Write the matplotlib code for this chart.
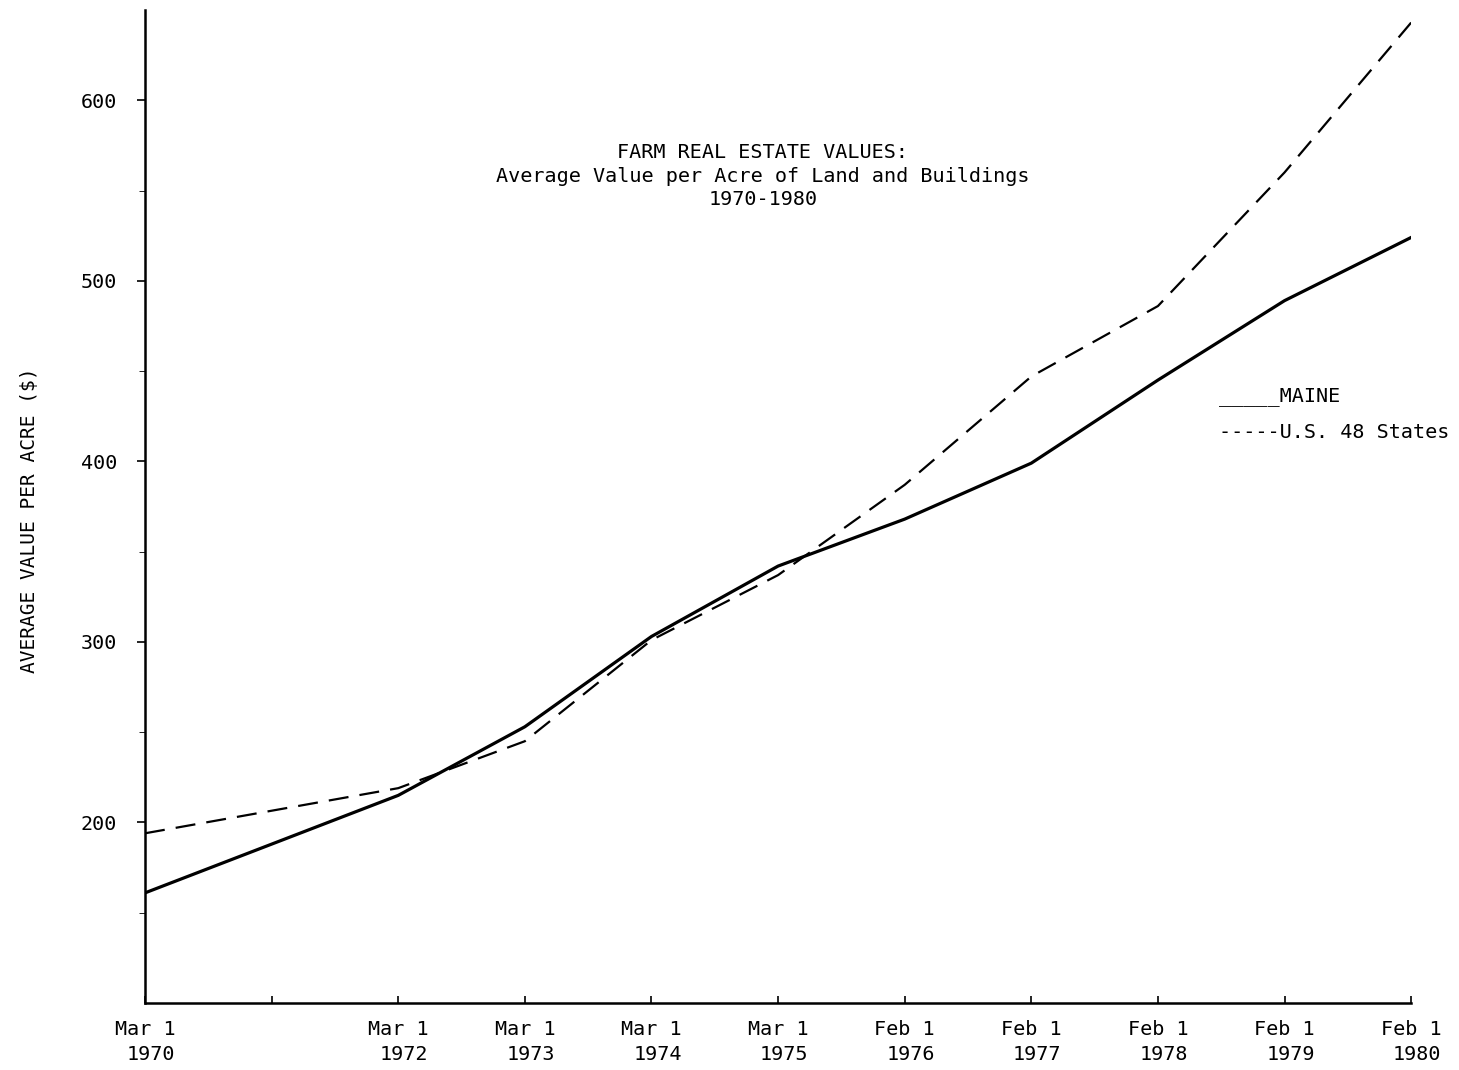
import matplotlib.pyplot as plt

plt.rcParams['font.family'] = ['DejaVu Sans Mono', 'DejaVu Sans']

years = [1970, 1972, 1973, 1974, 1975, 1976, 1977, 1978, 1979, 1980]
maine = [161, 215, 253, 303, 342, 368, 399, 445, 489, 524]
us48 = [194, 219, 245, 301, 337, 387, 447, 486, 560, 643]

tick_years = [1970, 1971, 1972, 1973, 1974, 1975, 1976, 1977, 1978, 1979, 1980]
tick_labels = ['Mar 1\n1970', '', 'Mar 1\n1972', 'Mar 1\n1973', 'Mar 1\n1974',
               'Mar 1\n1975', 'Feb 1\n1976', 'Feb 1\n1977', 'Feb 1\n1978',
               'Feb 1\n1979', 'Feb 1\n1980']

fig = plt.figure(figsize=(14.59, 10.70), dpi=100)
ax = fig.add_axes([0.0994, 0.0626, 0.8678, 0.9281])

ax.plot(years, maine, color='black', lw=2.3)
ax.plot(years, us48, color='black', lw=1.6, dashes=(9, 5))

ax.set_xlim(1970, 1980)
ax.set_ylim(100, 650)
ax.set_xticks(tick_years)
ax.set_xticklabels(tick_labels, fontsize=14.5, multialignment='right', linespacing=1.4)
ax.set_yticks([200, 300, 400, 500, 600])
ax.set_yticks([150, 250, 350, 450, 550], minor=True)
ax.tick_params(axis='y', labelsize=14.5, length=6, width=1.2, pad=14)
ax.tick_params(axis='y', which='minor', length=4)
ax.tick_params(axis='x', length=5, width=1.2, direction='in', pad=12)

for s in ['top', 'right']:
    ax.spines[s].set_visible(False)
ax.spines['left'].set_linewidth(1.8)
ax.spines['bottom'].set_linewidth(1.8)

ax.set_ylabel('AVERAGE VALUE PER ACRE ($)', fontsize=14)
ax.yaxis.set_label_coords(-0.084, 0.486)

ax.text(0.488, 0.866, 'FARM REAL ESTATE VALUES:\nAverage Value per Acre of Land and Buildings\n1970-1980',
        transform=ax.transAxes, ha='center', va='top', fontsize=14.5, linespacing=1.3)

# legend drawn as typed text, like the original
ax.text(0.848, 0.606, '_____MAINE', transform=ax.transAxes, fontsize=14.5, va='baseline')
ax.text(0.848, 0.569, '-----U.S. 48 States', transform=ax.transAxes, fontsize=14.5, va='baseline')

fig.savefig('out.png', dpi=100)
